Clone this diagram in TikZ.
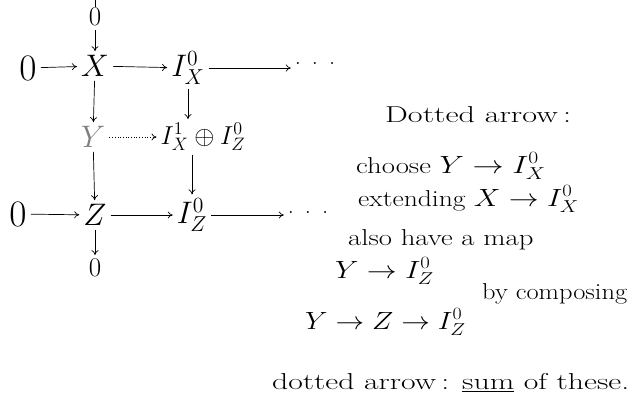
\documentclass[tikz,border=0pt]{standalone}
\usetikzlibrary{arrows.meta}
\newcommand{\wide}[2][1.3]{\scalebox{#1}[1]{#2}}
\newcommand{\enlg}[2][1.5]{\scalebox{#1}{#2}}
\begin{document}
\begin{tikzpicture}[x=1pt,y=-1pt,
  obj/.style={inner sep=1pt,font=\fontsize{22}{26}\selectfont},
  note/.style={anchor=west,inner sep=0pt,font=\fontsize{23}{27}\selectfont},
  arr/.style={-{To[length=5pt,width=7pt]},line width=0.7pt,shorten >=3pt,shorten <=3pt},
  dotarr/.style={arr,dotted}]
\useasboundingbox (0,0) rectangle (639,409);
\coordinate (top) at (95,0);
\node[obj] (t0) at (95,17) {\enlg[1.3]{$0$}};
\node[obj] (X) at (95,66) {\enlg{$X$}};
\node[obj] (l0) at (28,68) {\enlg[1.8]{$0$}};
\node[obj] (IX) at (188,68) {\enlg{$I^0_X$}};
\node[obj] (d1) at (315,63) {$.\;\;.\;\;.$};
\node[obj,gray] (Y) at (93,137) {\enlg{$Y$}};
\node[obj] (S) at (203,137) {\enlg[1.25]{$I^1_X\oplus I^0_Z$}};
\node[obj] (b0) at (18,214) {\enlg[1.8]{$0$}};
\node[obj] (Z) at (95,215) {\enlg{$Z$}};
\node[obj] (IZ) at (192,215) {\enlg{$I^0_Z$}};
\node[obj] (d2) at (308,212) {$.\;\;.\;\;.$};
\node[obj] (bot0) at (95,268) {\enlg[1.3]{$0$}};
\draw[line width=0.7pt] (top) -- (t0);
\draw[arr] (t0) -- (X);
\draw[arr] (l0) -- (X);
\draw[arr] (X) -- (IX);
\draw[arr] (IX) -- (d1.west|-IX);
\draw[arr] (X) -- (Y);
\draw[arr] (IX) -- (IX|-S.north);
\draw[dotarr] (Y) -- (S);
\draw[arr] (Y) -- (Z);
\draw[arr] (S.south-|IZ) -- (IZ);
\draw[arr] (b0) -- (Z);
\draw[arr] (Z) -- (IZ);
\draw[arr] (IZ) -- (d2.west|-IZ);
\draw[arr] (Z) -- (bot0);
\node[note] (n1) at (385,115) {\wide[1.4]{Dotted arrow\,:}};
\node[note] (n2) at (356,166) {\wide[1.25]{choose $Y\to I^0_X$}};
\node[note] (n3) at (358,199) {\wide[1.2]{extending $X\to I^0_X$}};
\node[note] (n4) at (348,240) {\wide[1.25]{also have a map}};
\node[note] (n5) at (335,271) {\wide[1.2]{$Y\to I^0_Z$}};
\node[note] (n6) at (482,294) {\wide[1.15]{by composing}};
\node[note] (n7) at (305,322) {\wide[1.15]{$Y\to Z\to I^0_Z$}};
\node[note] (n8) at (272,383) {\wide[1.38]{dotted arrow\,: \underline{sum} of these.}};
\end{tikzpicture}
\end{document}
